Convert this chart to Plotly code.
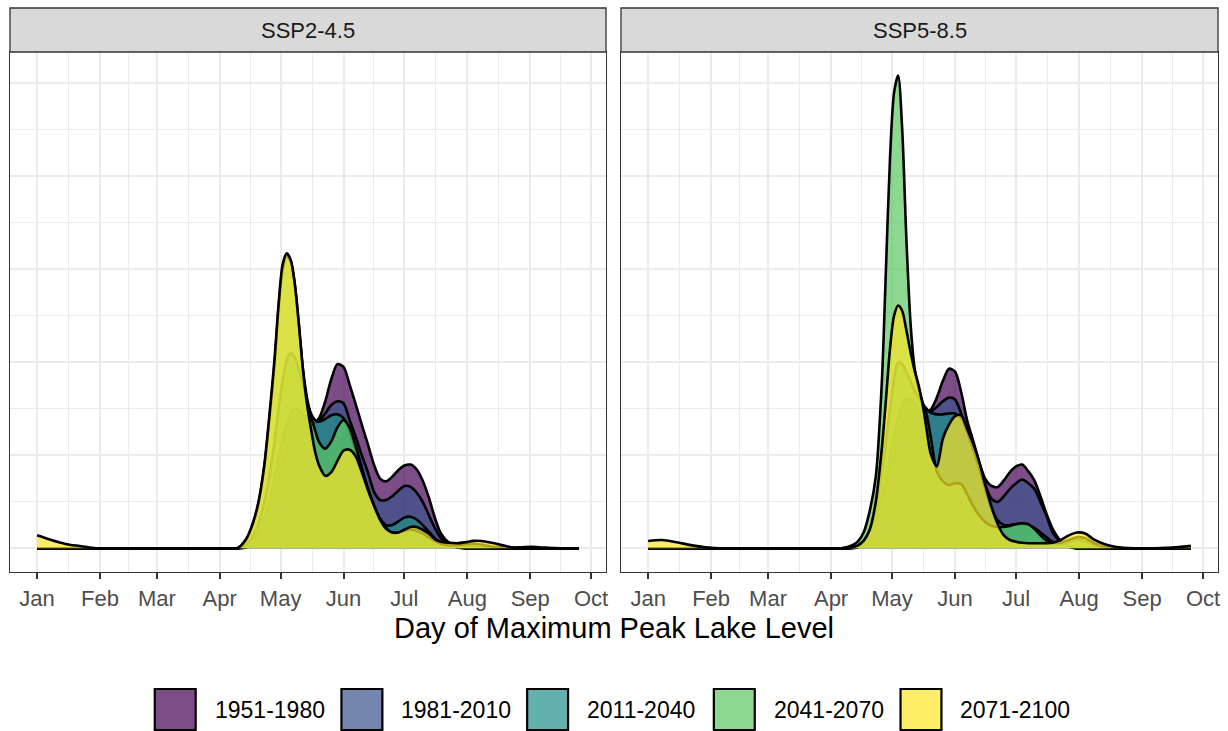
import plotly.graph_objects as go

# ---------------- data ----------------
PERIODS = ["1951-1980", "1981-2010", "2011-2040", "2041-2070", "2071-2100"]
COLORS = ["#440154", "#3B528B", "#21908C", "#5DC863", "#FDE725"]
SCENARIOS = ["SSP2-4.5", "SSP5-8.5"]
MONTHS = ["Jan", "Feb", "Mar", "Apr", "May", "Jun", "Jul", "Aug", "Sep", "Oct"]
MONTH_DAYS = [1, 32, 60, 91, 121, 152, 182, 213, 244, 274]
X_LABEL = "Day of Maximum Peak Lake Level"

DAYS = [1, 8, 15, 22, 29, 40, 60, 80, 96,
        100, 104, 107, 110, 113, 116,
        118, 120, 122, 124, 126, 128, 130, 132, 134, 136, 138, 140,
        143, 146, 149, 152, 155, 158, 161, 164, 167, 170, 173, 176, 179, 182,
        185, 188, 191, 194, 197, 200,
        204, 208, 212, 216, 220,
        225, 230, 235, 240, 245, 250,
        256, 262, 268]

Z9 = [0, 0, 0, 0, 0, 0, 0, 0, 0]

# SSP2-4.5 densities (x100)
ssp245_1951 = Z9 + [0, 0.01, 0.05, 0.12, 0.24, 0.42,
                    0.58, 0.75, 0.92, 1.07, 1.19, 1.27, 1.32, 1.34, 1.35, 1.35, 1.36, 1.40,
                    1.58, 1.82, 1.98, 1.95, 1.76, 1.55, 1.33, 1.12, 0.90, 0.75, 0.72, 0.77, 0.84, 0.89,
                    0.90, 0.85, 0.73, 0.55, 0.33, 0.16,
                    0.06, 0.02, 0, 0, 0,
                    0, 0, 0, 0, 0, 0,
                    0, 0, 0]
ssp245_1981 = Z9 + [0, 0.02, 0.07, 0.17, 0.32, 0.55,
                    0.75, 0.97, 1.17, 1.34, 1.45, 1.50, 1.48, 1.43, 1.38, 1.35, 1.35, 1.37,
                    1.45, 1.54, 1.58, 1.56, 1.38, 1.20, 1.00, 0.82, 0.61, 0.52, 0.52, 0.56, 0.62, 0.67,
                    0.66, 0.60, 0.50, 0.36, 0.22, 0.11,
                    0.04, 0.01, 0, 0, 0,
                    0, 0, 0, 0, 0, 0,
                    0, 0, 0]
ssp245_2011 = Z9 + [0, 0.04, 0.12, 0.26, 0.50, 0.85,
                    1.15, 1.50, 1.80, 2.02, 2.10, 2.05, 1.92, 1.75, 1.58, 1.45, 1.38, 1.36,
                    1.39, 1.43, 1.44, 1.40, 1.26, 1.05, 0.85, 0.65, 0.46, 0.32, 0.25, 0.25, 0.29, 0.33,
                    0.34, 0.31, 0.25, 0.18, 0.11, 0.05,
                    0.03, 0.03, 0.035, 0.03, 0.015,
                    0.005, 0, 0, 0, 0, 0,
                    0, 0, 0]
ssp245_2041 = Z9 + [0.005, 0.09, 0.24, 0.47, 0.88, 1.50,
                    1.98, 2.58, 3.00, 3.14, 3.08, 2.84, 2.40, 1.93, 1.62, 1.42, 1.27, 1.14,
                    1.07, 1.15, 1.30, 1.38, 1.30, 1.10, 0.87, 0.64, 0.46, 0.31, 0.22, 0.17, 0.17, 0.19,
                    0.20, 0.19, 0.16, 0.12, 0.08, 0.05,
                    0.035, 0.035, 0.045, 0.05, 0.04,
                    0.02, 0.008, 0.008, 0.012, 0.016, 0.01,
                    0.003, 0, 0]
ssp245_2071 = [0.14, 0.09, 0.048, 0.025, 0.004, 0, 0, 0, 0,
               0.005, 0.10, 0.25, 0.49, 0.90, 1.55,
               2.03, 2.62, 3.05, 3.17, 3.10, 2.84, 2.41, 1.92, 1.55, 1.28, 1.04, 0.89,
               0.78, 0.82, 0.94, 1.05, 1.06, 0.99, 0.82, 0.63, 0.46, 0.31, 0.21, 0.17, 0.17, 0.20,
               0.23, 0.23, 0.20, 0.16, 0.10, 0.07,
               0.06, 0.055, 0.065, 0.08, 0.08,
               0.06, 0.035, 0.01, 0, 0, 0,
               0, 0, 0]

# SSP5-8.5 densities (x100)
ssp585_1951 = Z9 + [0, 0.01, 0.05, 0.13, 0.27, 0.48,
                    0.65, 0.84, 1.03, 1.20, 1.33, 1.42, 1.47, 1.48, 1.47, 1.46, 1.46, 1.49,
                    1.62, 1.80, 1.93, 1.90, 1.68, 1.37, 1.15, 0.92, 0.74, 0.67, 0.66, 0.73, 0.82, 0.88,
                    0.90, 0.83, 0.73, 0.56, 0.37, 0.21,
                    0.08, 0.02, 0, 0, 0,
                    0, 0, 0, 0, 0, 0,
                    0, 0, 0]
ssp585_1981 = Z9 + [0, 0.02, 0.06, 0.16, 0.32, 0.56,
                    0.76, 0.98, 1.20, 1.40, 1.54, 1.60, 1.60, 1.56, 1.51, 1.47, 1.46, 1.47,
                    1.52, 1.58, 1.62, 1.60, 1.45, 1.27, 1.10, 0.89, 0.67, 0.53, 0.50, 0.56, 0.64, 0.70,
                    0.74, 0.70, 0.64, 0.50, 0.35, 0.17,
                    0.07, 0.02, 0, 0, 0,
                    0, 0, 0, 0, 0, 0,
                    0, 0, 0]
ssp585_2011 = Z9 + [0, 0.03, 0.08, 0.20, 0.42, 0.80,
                    1.15, 1.50, 1.82, 2.00, 1.98, 1.90, 1.80, 1.70, 1.62, 1.55, 1.50, 1.46,
                    1.44, 1.44, 1.45, 1.45, 1.40, 1.25, 1.05, 0.85, 0.62, 0.42, 0.30, 0.25, 0.25, 0.26,
                    0.26, 0.25, 0.22, 0.17, 0.12, 0.07,
                    0.05, 0.07, 0.09, 0.08, 0.04,
                    0.01, 0, 0, 0, 0, 0,
                    0, 0, 0]
ssp585_2041 = Z9 + [0.02, 0.07, 0.17, 0.40, 0.77, 1.80,
                    3.00, 4.20, 4.90, 5.08, 4.50, 3.35, 2.45, 1.95, 1.72, 1.57, 1.44, 1.20,
                    0.83, 0.72, 0.68, 0.70, 0.69, 0.58, 0.45, 0.35, 0.28, 0.24, 0.23, 0.23, 0.24, 0.26,
                    0.27, 0.26, 0.21, 0.14, 0.085, 0.06,
                    0.06, 0.09, 0.12, 0.11, 0.06,
                    0.02, 0.005, 0, 0, 0, 0,
                    0, 0, 0]
ssp585_2071 = [0.08, 0.09, 0.065, 0.035, 0.012, 0, 0, 0, 0,
               0.01, 0.03, 0.08, 0.20, 0.50, 1.08,
               1.60, 2.15, 2.50, 2.61, 2.55, 2.35, 2.12, 1.92, 1.76, 1.55, 1.28, 1.02,
               0.88, 1.18, 1.33, 1.42, 1.43, 1.28, 1.12, 0.92, 0.67, 0.44, 0.26, 0.14, 0.09, 0.07,
               0.06, 0.055, 0.055, 0.055, 0.056, 0.06,
               0.09, 0.14, 0.17, 0.16, 0.10,
               0.05, 0.02, 0.005, 0, 0, 0,
               0.005, 0.015, 0.027]

PANELS = [
    [ssp245_1951, ssp245_1981, ssp245_2011, ssp245_2041, ssp245_2071],
    [ssp585_1951, ssp585_1981, ssp585_2011, ssp585_2041, ssp585_2071],
]

# ---------------- layout helpers ----------------
W, H = 1228, 731
FONT = "Liberation Sans, Arial, Helvetica, sans-serif"
ALPHA = 0.7


def rgba(hexc, a):
    h = hexc.lstrip("#")
    r, g, b = int(h[0:2], 16), int(h[2:4], 16), int(h[4:6], 16)
    return f"rgba({r},{g},{b},{a})"


def fx(p):
    return p / W


def fy(p):
    return 1 - p / H


fig = go.Figure()

axis_ids = [("x", "y"), ("x2", "y2")]
for (xa, ya), series in zip(axis_ids, PANELS):
    for name, col, vals in zip(PERIODS, COLORS, series):
        fig.add_trace(go.Scatter(
            x=DAYS, y=vals, mode="lines", name=name,
            line=dict(color="black", width=2.6, shape="spline", smoothing=0.8),
            fill="tozeroy", fillcolor=rgba(col, ALPHA),
            xaxis=xa, yaxis=ya, showlegend=False, hoverinfo="skip"))

# ranges as ggplot (5% expansion)
xmin, xmax = min(DAYS), max(DAYS)
xpad = 0.05 * (xmax - xmin)
ymax = max(max(v) for s in PANELS for v in s)
ypad = 0.05 * ymax
minor_days = [(a + b) / 2 for a, b in zip(MONTH_DAYS[:-1], MONTH_DAYS[1:])]

panel_px = [(10, 607), (622, 1220)]
top_px, bot_px = 52, 572
strip_top = 8

xaxis_common = dict(
    range=[xmin - xpad, xmax + xpad],
    tickmode="array", tickvals=MONTH_DAYS, ticktext=MONTHS,
    ticks="outside", ticklen=6, tickwidth=1.5, tickcolor="#333333",
    tickfont=dict(family=FONT, size=22, color="#4D4D4D"),
    showgrid=True, gridcolor="#EBEBEB", gridwidth=2.0,
    minor=dict(tickvals=minor_days, showgrid=True, gridcolor="#EBEBEB", gridwidth=1.4),
    showline=True, linecolor="#333333", linewidth=1.3, mirror=True,
    zeroline=False, fixedrange=True,
)
yaxis_common = dict(
    range=[-ypad, ymax + ypad], tick0=0, dtick=1,
    showticklabels=False, ticks="",
    showgrid=True, gridcolor="#EBEBEB", gridwidth=2.0,
    minor=dict(dtick=0.5, tick0=0, showgrid=True, gridcolor="#EBEBEB", gridwidth=1.4),
    showline=True, linecolor="#333333", linewidth=1.3, mirror=True,
    zeroline=False, fixedrange=True,
    domain=[fy(bot_px), fy(top_px)],
)

fig.update_layout(
    xaxis=dict(domain=[fx(panel_px[0][0]), fx(panel_px[0][1])], anchor="y", **xaxis_common),
    xaxis2=dict(domain=[fx(panel_px[1][0]), fx(panel_px[1][1])], anchor="y2", **xaxis_common),
    yaxis=dict(anchor="x", **yaxis_common),
    yaxis2=dict(anchor="x2", matches="y", **yaxis_common),
)

shapes = []
annotations = []
# strips
for (x0, x1), lab in zip(panel_px, SCENARIOS):
    shapes.append(dict(type="rect", xref="paper", yref="paper",
                       x0=fx(x0), x1=fx(x1), y0=fy(top_px), y1=fy(strip_top),
                       fillcolor="#D9D9D9", line=dict(color="#333333", width=1.3), layer="above"))
    annotations.append(dict(xref="paper", yref="paper", x=fx((x0 + x1) / 2), y=fy((strip_top + top_px) / 2),
                            text=lab, showarrow=False, xanchor="center", yanchor="middle",
                            font=dict(family=FONT, size=22, color="#1A1A1A")))

# x title
annotations.append(dict(xref="paper", yref="paper", x=fx(615), y=fy(628), text=X_LABEL,
                        showarrow=False, xanchor="center", yanchor="middle",
                        font=dict(family=FONT, size=29, color="#000000")))

# legend (manual, ggplot-style keys)
key_x = [155, 342, 528, 715, 902]
key_w, key_top, key_bot = 41, 689, 730
for kx, name, col in zip(key_x, PERIODS, COLORS):
    shapes.append(dict(type="rect", xref="paper", yref="paper",
                       x0=fx(kx), x1=fx(kx + key_w), y0=fy(key_bot), y1=fy(key_top),
                       fillcolor=rgba(col, ALPHA), line=dict(color="black", width=2.2)))
    annotations.append(dict(xref="paper", yref="paper", x=fx(kx + key_w + 17), y=fy(710),
                            text=name, showarrow=False, xanchor="left", yanchor="middle",
                            font=dict(family=FONT, size=23, color="#000000")))

fig.update_layout(
    width=W, height=H,
    margin=dict(l=0, r=0, t=0, b=0),
    paper_bgcolor="white", plot_bgcolor="white",
    shapes=shapes, annotations=annotations,
    showlegend=False,
    font=dict(family=FONT),
)

fig.write_html("out.html")
